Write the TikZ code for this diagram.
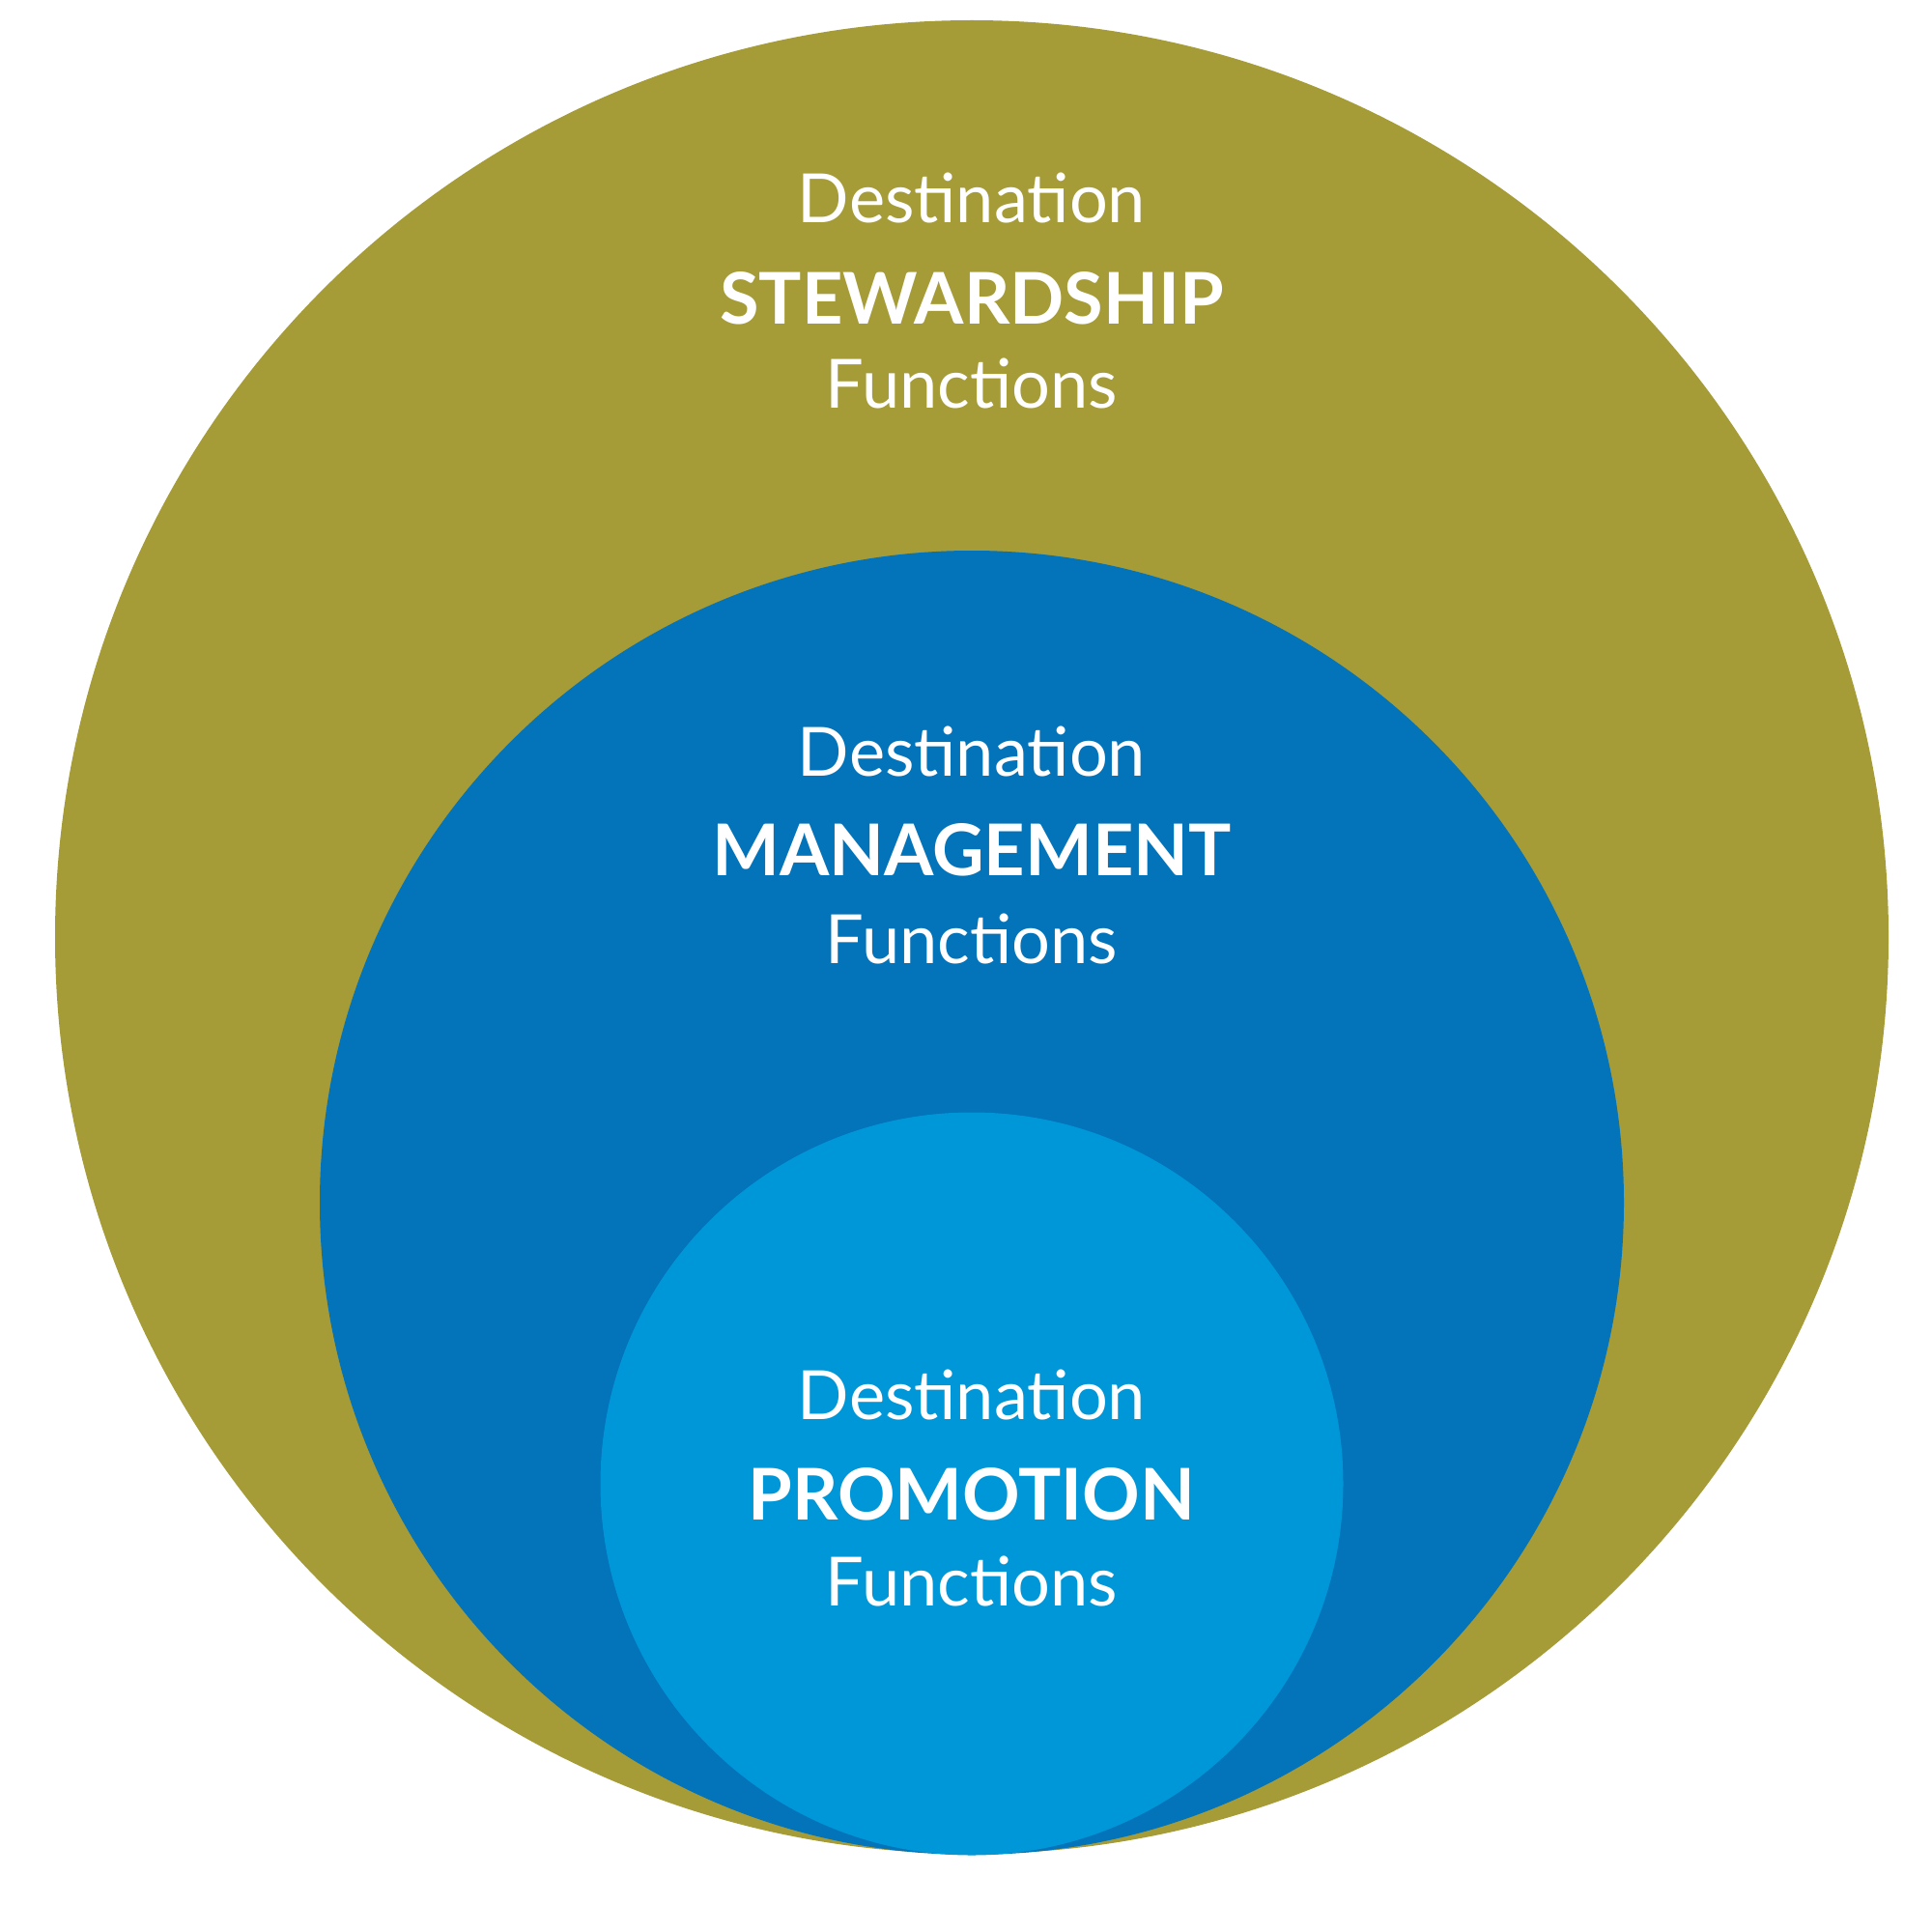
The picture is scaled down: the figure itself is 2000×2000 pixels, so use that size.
\documentclass[tikz,border=0pt]{standalone}
\usepackage{fontspec}
\setmainfont{Lato}
\usepackage{tikz}

\definecolor{olive}{HTML}{A59B37}
\definecolor{deepblue}{HTML}{0373BA}
\definecolor{lightblue}{HTML}{0097D8}

\begin{document}
\begin{tikzpicture}[x=0.01cm,y=-0.01cm,
  thin label/.style={text=white,anchor=base,inner sep=0pt,font=\fontsize{20}{20}\selectfont},
  bold label/.style={text=white,anchor=base,inner sep=0pt,font=\fontsize{21}{21}\selectfont\bfseries}]
 \useasboundingbox (0,0) rectangle (2000,2000);
 % the three rings, all touching at the bottom
 \fill[olive] (1006,970) circle (949);
 \fill[deepblue] (1006,1245) circle (675);
 \fill[lightblue] (1006,1536) circle (384.5);
 % stewardship
 \node[thin label] (stewA) at (1006,231) {Destination};
 \node[bold label] (stewB) at (1006,335) {STEWARDSHIP};
 \node[thin label] (stewC) at (1006,422) {Functions};
 % management
 \node[thin label] (mgmtA) at (1006,803) {Destination};
 \node[bold label] (mgmtB) at (1006,906) {MANAGEMENT};
 \node[thin label] (mgmtC) at (1006,997) {Functions};
 % promotion
 \node[thin label] (promA) at (1006,1469) {Destination};
 \node[bold label] (promB) at (1006,1573) {PROMOTION};
 \node[thin label] (promC) at (1006,1662) {Functions};
\end{tikzpicture}
\end{document}
